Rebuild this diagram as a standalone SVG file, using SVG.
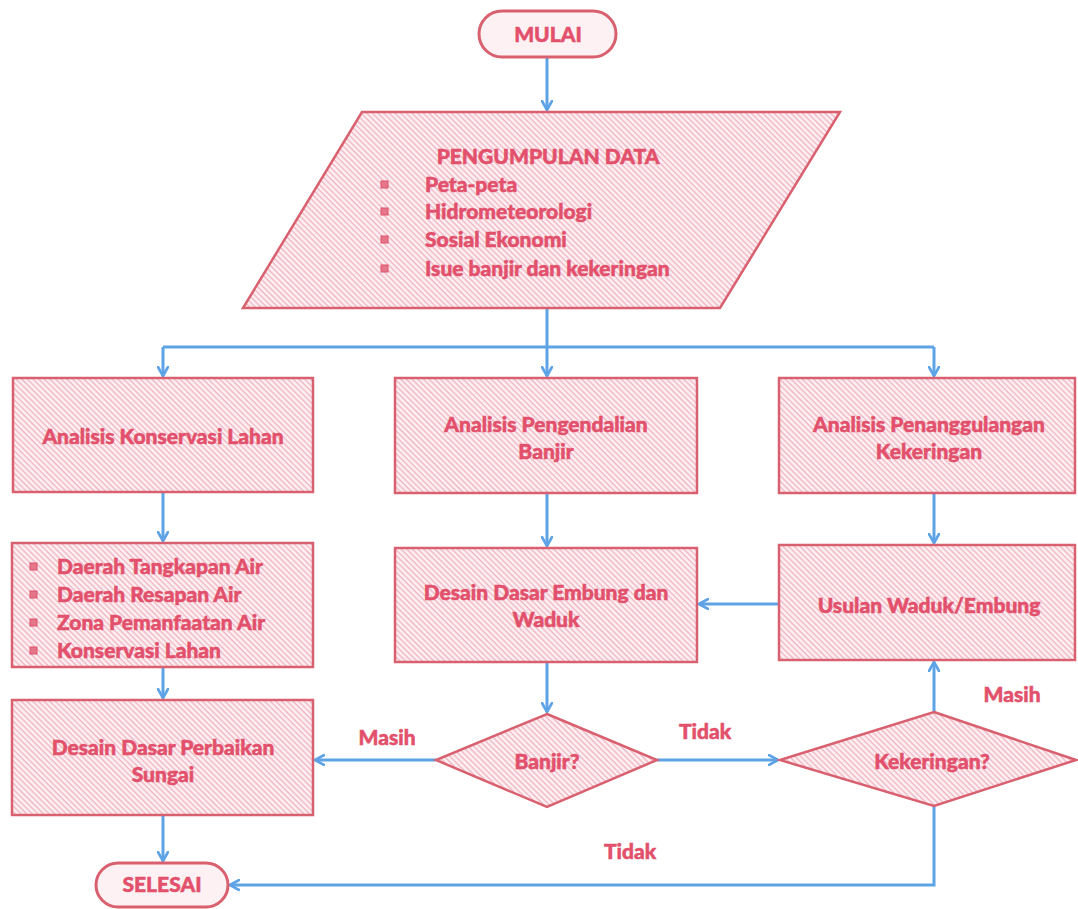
<svg xmlns="http://www.w3.org/2000/svg" width="1078" height="909" viewBox="0 0 1078 909">
<defs>
<pattern id="hatch" width="4" height="4" patternUnits="userSpaceOnUse" patternTransform="rotate(45)">
<rect width="4" height="4" fill="#fcf0f3"/>
<rect width="4" height="1.3" fill="#f0b2c0"/>
</pattern>
<marker id="arr" viewBox="0 0 12 12" refX="10" refY="6" markerWidth="12" markerHeight="12" markerUnits="userSpaceOnUse" orient="auto">
<path d="M1,1 L10,6 L1,11" fill="none" stroke="#5ea3e6" stroke-width="2.6" stroke-linejoin="round" stroke-linecap="round"/>
</marker>
</defs>
<style>
.shape{fill:url(#hatch);stroke:#d9606f;stroke-width:2.5}
.pill{fill:#fdf1f4;stroke:#d9606f;stroke-width:3}
.t{font-family:Lato,"Open Sans",sans-serif;font-weight:900;font-size:21px;fill:#e2506b;stroke:#e2506b;stroke-width:0.5}
.c{text-anchor:middle}
.b{fill:#e4778a;stroke:#e0506a;stroke-width:1}
.ln{fill:none;stroke:#5ea3e6;stroke-width:3}
.a{marker-end:url(#arr)}
</style>
<rect width="1078" height="909" fill="#ffffff"/>

<g id="connectors">
<path class="ln a" d="M547,58 V110"/>
<path class="ln" d="M547,308 V347"/>
<path class="ln" d="M163,347 H934"/>
<path class="ln a" d="M163,347 V376"/>
<path class="ln a" d="M547,347 V376"/>
<path class="ln a" d="M934,347 V376"/>
<path class="ln a" d="M163,493 V541"/>
<path class="ln a" d="M547,493 V546"/>
<path class="ln a" d="M934,493 V543"/>
<path class="ln a" d="M779,604 H699"/>
<path class="ln a" d="M163,667 V698"/>
<path class="ln a" d="M547,662 V712"/>
<path class="ln a" d="M436,760 H315"/>
<path class="ln a" d="M657,760 H778"/>
<path class="ln a" d="M934,712 V662"/>
<path class="ln a" d="M934,806 V885 H230"/>
<path class="ln a" d="M163,815 V861"/>
</g>

<g id="mulai">
<rect class="pill" x="479" y="11" width="137" height="46" rx="23"/>
<text class="t c" x="548" y="42">MULAI</text>
</g>

<g id="pengumpulan">
<polygon class="shape" points="362,112 840,112 720,308 243,308"/>
<text class="t c" x="548" y="164">PENGUMPULAN DATA</text>
<rect class="b" x="381" y="181" width="7" height="7"/>
<rect class="b" x="381" y="208" width="7" height="7"/>
<rect class="b" x="381" y="236" width="7" height="7"/>
<rect class="b" x="381" y="265" width="7" height="7"/>
<text class="t" x="425" y="192">Peta-peta</text>
<text class="t" x="425" y="219">Hidrometeorologi</text>
<text class="t" x="425" y="247">Sosial Ekonomi</text>
<text class="t" x="425" y="276">Isue banjir dan kekeringan</text>
</g>

<g id="konservasi">
<rect class="shape" x="13" y="378" width="300" height="114"/>
<text class="t c" x="163" y="444">Analisis Konservasi Lahan</text>
</g>

<g id="pengendalian">
<rect class="shape" x="395" y="378" width="302" height="115"/>
<text class="t c" x="546" y="432">Analisis Pengendalian</text>
<text class="t c" x="546" y="459">Banjir</text>
</g>

<g id="penanggulangan">
<rect class="shape" x="779" y="378" width="296" height="115"/>
<text class="t c" x="929" y="432">Analisis Penanggulangan</text>
<text class="t c" x="929" y="459">Kekeringan</text>
</g>

<g id="daerah">
<rect class="shape" x="12" y="543" width="301" height="124"/>
<rect class="b" x="30" y="563" width="7" height="7"/>
<rect class="b" x="30" y="591" width="7" height="7"/>
<rect class="b" x="30" y="619" width="7" height="7"/>
<rect class="b" x="30" y="647" width="7" height="7"/>
<text class="t" x="57" y="574">Daerah Tangkapan Air</text>
<text class="t" x="57" y="602">Daerah Resapan Air</text>
<text class="t" x="57" y="630">Zona Pemanfaatan Air</text>
<text class="t" x="57" y="658">Konservasi Lahan</text>
</g>

<g id="desain-embung">
<rect class="shape" x="395" y="548" width="302" height="114"/>
<text class="t c" x="546" y="600">Desain Dasar Embung dan</text>
<text class="t c" x="546" y="627">Waduk</text>
</g>

<g id="usulan">
<rect class="shape" x="779" y="545" width="296" height="115"/>
<text class="t c" x="929" y="613">Usulan Waduk/Embung</text>
</g>

<g id="desain-sungai">
<rect class="shape" x="12" y="700" width="301" height="115"/>
<text class="t c" x="163" y="755">Desain Dasar Perbaikan</text>
<text class="t c" x="163" y="782">Sungai</text>
</g>

<g id="banjir">
<polygon class="shape" points="547,714 657,760 547,807 436,760"/>
<text class="t c" x="547" y="769">Banjir?</text>
</g>

<g id="kekeringan">
<polygon class="shape" points="934,712 1076,760 934,806 780,760"/>
<text class="t c" x="932" y="769">Kekeringan?</text>
</g>

<g id="selesai">
<rect class="pill" x="96" y="863" width="132" height="44" rx="22"/>
<text class="t c" x="162" y="892">SELESAI</text>
</g>

<g id="labels">
<text class="t c" x="387" y="745">Masih</text>
<text class="t c" x="705" y="739">Tidak</text>
<text class="t c" x="1012" y="702">Masih</text>
<text class="t c" x="630" y="859">Tidak</text>
</g>
</svg>
